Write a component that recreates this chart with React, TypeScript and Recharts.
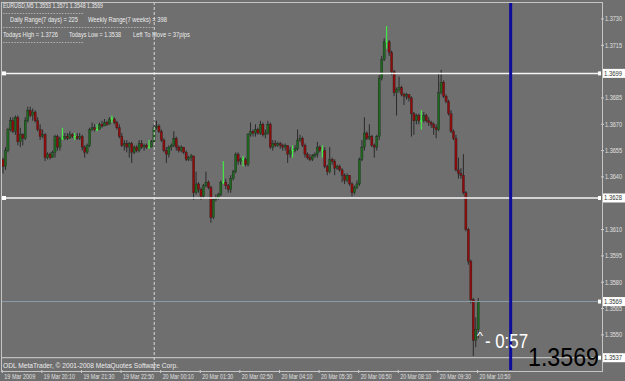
import React from "react";
import { Bar, ComposedChart, ReferenceLine, XAxis, YAxis } from "recharts";

// EURUSD M5, 19 Mar 2009 18:50 -> 20 Mar 2009 10:50 (193 bars)
const firstOpen = 1.365;

const closes = [
  1.3646, 1.3655, 1.3667, 1.3672, 1.3666, 1.3674, 1.366, 1.3664, 1.3662, 1.3672,
  1.3678, 1.3675, 1.3677, 1.3672, 1.3667, 1.3663, 1.3664, 1.3651, 1.3653, 1.3651,
  1.3654, 1.3663, 1.3657, 1.3662, 1.3662, 1.3663, 1.3662, 1.3664, 1.3663, 1.3663,
  1.3662, 1.3663, 1.3657, 1.3654, 1.3658, 1.3667, 1.3668, 1.3667, 1.3667, 1.367,
  1.3669, 1.3671, 1.367, 1.3673, 1.3673, 1.3671, 1.3668, 1.3663, 1.3658, 1.3659,
  1.3657, 1.3659, 1.3654, 1.3657, 1.3655, 1.3659, 1.3657, 1.3658, 1.3657, 1.3657,
  1.366, 1.3668, 1.3669, 1.3666, 1.3661, 1.3655, 1.3653, 1.3657, 1.3658, 1.3662,
  1.3657, 1.3655, 1.3657, 1.3654, 1.365, 1.3651, 1.3652, 1.3631, 1.3636, 1.3633,
  1.3629, 1.3635, 1.3637, 1.3634, 1.3617, 1.3627, 1.3628, 1.363, 1.3637, 1.3637,
  1.3635, 1.3633, 1.3639, 1.3643, 1.3653, 1.3649, 1.365, 1.365, 1.3647, 1.3664,
  1.3666, 1.3665, 1.3667, 1.3665, 1.367, 1.3664, 1.3665, 1.367, 1.3657, 1.3659,
  1.3658, 1.3659, 1.3658, 1.3657, 1.3658, 1.3653, 1.3655, 1.3655, 1.3656, 1.3661,
  1.3662, 1.3658, 1.3653, 1.3651, 1.365, 1.3652, 1.3653, 1.3657, 1.3655, 1.3655,
  1.3646, 1.3643, 1.365, 1.3649, 1.3645, 1.3646, 1.3644, 1.3641, 1.3638, 1.3641,
  1.3636, 1.3631, 1.3634, 1.3636, 1.365, 1.3657, 1.3665, 1.3662, 1.3663, 1.3658,
  1.3657, 1.3663, 1.3696, 1.3707, 1.3717, 1.3717, 1.3711, 1.37, 1.3688, 1.369,
  1.3691, 1.3687, 1.3686, 1.3687, 1.3685, 1.3676, 1.3672, 1.3675, 1.3672, 1.3672,
  1.3675, 1.3672, 1.3671, 1.367, 1.3668, 1.3667, 1.3688, 1.3694, 1.3686, 1.3683,
  1.3676, 1.3666, 1.3662, 1.3644, 1.3642, 1.3641, 1.3631, 1.361, 1.3592, 1.357,
  1.3547, 1.3553, 1.3569,
];

const highs = [
  1.3651, 1.3657, 1.3668, 1.3674, 1.3674, 1.3675, 1.3675, 1.3668, 1.3665, 1.3674,
  1.368, 1.368, 1.3679, 1.3678, 1.3674, 1.367, 1.3667, 1.3665, 1.3654, 1.3654,
  1.3655, 1.3664, 1.3664, 1.3663, 1.3668, 1.3665, 1.3665, 1.3666, 1.3665, 1.3665,
  1.3665, 1.3665, 1.3664, 1.3658, 1.3659, 1.3668, 1.3671, 1.367, 1.367, 1.3671,
  1.3672, 1.3673, 1.3672, 1.3674, 1.3675, 1.3674, 1.3672, 1.367, 1.3665, 1.3661,
  1.3661, 1.366, 1.366, 1.3658, 1.3658, 1.3661, 1.3661, 1.3659, 1.3659, 1.3661,
  1.3661, 1.3671, 1.3672, 1.367, 1.3667, 1.3662, 1.3657, 1.3658, 1.3659, 1.3666,
  1.3663, 1.3658, 1.3658, 1.3657, 1.3655, 1.3652, 1.3653, 1.3652, 1.3643, 1.3637,
  1.3634, 1.3636, 1.3643, 1.3638, 1.3635, 1.3628, 1.363, 1.3631, 1.3638, 1.3649,
  1.3639, 1.3636, 1.3641, 1.3644, 1.3654, 1.3654, 1.3651, 1.3652, 1.3651, 1.3665,
  1.3671, 1.3667, 1.367, 1.3668, 1.3672, 1.3671, 1.3667, 1.3672, 1.3671, 1.3661,
  1.3661, 1.366, 1.366, 1.3659, 1.3659, 1.3658, 1.3657, 1.3658, 1.3658, 1.3667,
  1.3664, 1.3663, 1.3659, 1.3654, 1.3653, 1.3653, 1.3654, 1.366, 1.3658, 1.3658,
  1.3657, 1.3647, 1.3657, 1.3651, 1.365, 1.3647, 1.3647, 1.3645, 1.3642, 1.3642,
  1.3641, 1.3637, 1.3635, 1.3638, 1.3651, 1.3661, 1.3674, 1.3666, 1.367, 1.3664,
  1.3659, 1.3664, 1.3698, 1.3709, 1.3719, 1.3726, 1.3718, 1.3712, 1.3701, 1.3691,
  1.3697, 1.3692, 1.3688, 1.3688, 1.3687, 1.3686, 1.3677, 1.3676, 1.3676, 1.3678,
  1.3677, 1.3676, 1.3674, 1.3672, 1.3671, 1.367, 1.3699, 1.3701, 1.3695, 1.3687,
  1.3684, 1.3678, 1.3667, 1.3664, 1.3651, 1.3645, 1.3653, 1.3632, 1.3611, 1.3593,
  1.3571, 1.356, 1.3571,
];

const lows = [
  1.3642, 1.3644, 1.3654, 1.3666, 1.3665, 1.3664, 1.3658, 1.3657, 1.3658, 1.3661,
  1.3671, 1.3674, 1.3672, 1.3671, 1.3666, 1.3661, 1.3662, 1.3649, 1.365, 1.365,
  1.3651, 1.3651, 1.3655, 1.3655, 1.3661, 1.3661, 1.3661, 1.3662, 1.3662, 1.3661,
  1.3661, 1.3661, 1.3655, 1.3651, 1.3653, 1.3657, 1.3666, 1.3666, 1.3666, 1.3667,
  1.3668, 1.3669, 1.3669, 1.367, 1.3671, 1.367, 1.3667, 1.3662, 1.3657, 1.3655,
  1.3654, 1.3651, 1.3648, 1.3653, 1.3654, 1.3654, 1.3656, 1.3655, 1.3656, 1.3656,
  1.3657, 1.3659, 1.3667, 1.3665, 1.366, 1.3654, 1.3648, 1.3651, 1.3655, 1.3657,
  1.3655, 1.3654, 1.3654, 1.3653, 1.3649, 1.3649, 1.3649, 1.3627, 1.363, 1.3631,
  1.3627, 1.3628, 1.3634, 1.3633, 1.3614, 1.3616, 1.3626, 1.3627, 1.3629, 1.3636,
  1.3633, 1.3631, 1.3631, 1.3638, 1.3642, 1.3647, 1.3647, 1.3646, 1.3646, 1.3646,
  1.3663, 1.3663, 1.3663, 1.3664, 1.3664, 1.3663, 1.3662, 1.3664, 1.3656, 1.3655,
  1.3657, 1.3657, 1.3656, 1.3655, 1.3655, 1.3648, 1.3651, 1.3651, 1.3654, 1.3655,
  1.366, 1.3657, 1.3651, 1.365, 1.3649, 1.3649, 1.3651, 1.3651, 1.3654, 1.3651,
  1.3645, 1.3641, 1.3642, 1.3647, 1.3641, 1.3644, 1.3643, 1.3637, 1.3636, 1.3637,
  1.3635, 1.3629, 1.363, 1.3633, 1.3635, 1.3649, 1.3655, 1.3661, 1.3661, 1.3657,
  1.3651, 1.3655, 1.3661, 1.3695, 1.3706, 1.3713, 1.3709, 1.3698, 1.3686, 1.3675,
  1.3688, 1.3686, 1.3681, 1.3684, 1.3683, 1.3663, 1.3664, 1.367, 1.367, 1.3667,
  1.3671, 1.3671, 1.3669, 1.3668, 1.3664, 1.3662, 1.3666, 1.3687, 1.3685, 1.3682,
  1.3675, 1.3665, 1.3661, 1.3643, 1.3639, 1.3639, 1.363, 1.3609, 1.359, 1.3568,
  1.3538, 1.3543, 1.3548,
];

const tickBars = [0, 16, 32, 48, 64, 80, 96, 112, 128, 144, 160, 176, 192];
const tickLabels = [
  "19 Mar 2009", "19 Mar 20:10", "19 Mar 21:30", "19 Mar 22:50", "20 Mar 00:10",
  "20 Mar 01:30", "20 Mar 02:50", "20 Mar 04:10", "20 Mar 05:30", "20 Mar 06:50",
  "20 Mar 08:10", "20 Mar 09:30", "20 Mar 10:50",
];
const priceTicks = [
  1.373, 1.3715, 1.3685, 1.367, 1.3655, 1.364, 1.361, 1.3595, 1.358, 1.3565, 1.355,
];

const SLOTS = 242;
const BG = "#6f6f6f";
const BULL = "#1f661f";
const BEAR = "#8f0c0c";
const DOJI = "#3dff3d";
const WICK = "#2a2a2a";
const FONT = "'Liberation Sans', Arial, sans-serif";

const data = Array.from({ length: SLOTS }, (_, i) =>
  i < closes.length
    ? {
        i,
        open: i === 0 ? firstOpen : closes[i - 1],
        high: highs[i],
        low: lows[i],
        close: closes[i],
        range: [lows[i], highs[i]],
      }
    : { i }
);

function Candle(props: any) {
  const { x, y, width, height, payload } = props;
  if (!payload || payload.high == null) return null;
  const { open, close, high, low } = payload;
  const top = Math.min(y, y + height);
  const h = Math.abs(height);
  const cx = x + width / 2;
  const toY = (p: number) => top + ((high - p) / (high - low)) * h;
  const yo = toY(open);
  const yc = toY(close);
  if (open === close) {
    return (
      <g>
        <line x1={cx} x2={cx} y1={top} y2={top + h} stroke={DOJI} strokeWidth={1} />
        <line x1={cx - 1.1} x2={cx + 1.1} y1={yo} y2={yo} stroke={DOJI} strokeWidth={1} />
      </g>
    );
  }
  return (
    <g>
      <line x1={cx} x2={cx} y1={top} y2={top + h} stroke={WICK} strokeWidth={1} />
      <rect
        x={cx - 1.1}
        y={Math.min(yo, yc)}
        width={2.2}
        height={Math.max(Math.abs(yc - yo), 1)}
        fill={close > open ? BULL : BEAR}
        stroke="#1c1c1c"
        strokeWidth={0.3}
      />
    </g>
  );
}

function TimeTick(props: any) {
  const { x, y, payload } = props;
  const k = tickBars.indexOf(payload.value);
  if (k < 0) return <g />;
  return (
    <g>
      <line x1={x - 1} x2={x - 1} y1={y} y2={y + 3} stroke="#d0d0d0" />
      <text
        x={x + 1}
        y={y + 8.5}
        fontSize={7}
        fontFamily={FONT}
        fill="#e0e0e0"
        textLength={31}
        lengthAdjust="spacingAndGlyphs"
      >
        {tickLabels[k]}
      </text>
    </g>
  );
}

function PriceTick(props: any) {
  const { x, y, payload } = props;
  return (
    <g>
      <line x1={x} x2={x + 3} y1={y} y2={y} stroke="#d0d0d0" />
      <text
        x={x + 4}
        y={y + 2.5}
        fontSize={7}
        fontFamily={FONT}
        fill="#e0e0e0"
        textLength={17}
        lengthAdjust="spacingAndGlyphs"
      >
        {payload.value.toFixed(4)}
      </text>
    </g>
  );
}

function PriceBox(props: any) {
  const { viewBox, value, square } = props;
  if (!viewBox) return null;
  const right = viewBox.x + viewBox.width;
  const yy = viewBox.y;
  return (
    <g>
      {square && <rect x={viewBox.x} y={yy - 2} width={4} height={4} fill="#ffffff" />}
      <rect x={right - 3} y={yy - 2} width={3} height={4} fill="#ffffff" />
      <rect x={right + 1} y={yy - 4.5} width={23} height={9} fill="#ffffff" />
      <text
        x={right + 3}
        y={yy + 2.5}
        fontSize={7}
        fontFamily={FONT}
        fill="#333333"
        textLength={18}
        lengthAdjust="spacingAndGlyphs"
      >
        {value}
      </text>
    </g>
  );
}

function Txt(props: { x: number; y: number; w: number; s?: number; c?: string; children: string }) {
  return (
    <text
      x={props.x}
      y={props.y}
      fontSize={props.s ?? 7}
      fontFamily={FONT}
      fill={props.c ?? "#ececec"}
      textLength={props.w}
      lengthAdjust="spacingAndGlyphs"
    >
      {props.children}
    </text>
  );
}

export default function App() {
  return (
    <div style={{ position: "relative", width: 625, height: 381, background: BG, overflow: "hidden" }}>
      <style>{`body{margin:0}`}</style>
      <ComposedChart
        width={625}
        height={381}
        data={data}
        margin={{ top: 3, right: 0, left: 2, bottom: 0 }}
        barCategoryGap={0}
        barGap={0}
      >
        <XAxis
          dataKey="i"
          height={11}
          interval={0}
          tickSize={0}
          tickMargin={0}
          axisLine={false}
          tick={<TimeTick />}
        />
        <YAxis
          orientation="right"
          width={24}
          type="number"
          domain={[1.353, 1.37391]}
          allowDataOverflow
          ticks={priceTicks}
          interval={0}
          tickSize={0}
          tickMargin={0}
          axisLine={false}
          tick={<PriceTick />}
        />
        <ReferenceLine x={61} stroke="#d8d8d8" strokeDasharray="3 2" strokeWidth={1} />
        <ReferenceLine y={1.3699} stroke="#f4f4f4" strokeWidth={1.5} label={<PriceBox value="1.3699" square />} />
        <ReferenceLine y={1.3628} stroke="#f4f4f4" strokeWidth={1.5} label={<PriceBox value="1.3628" square />} />
        <ReferenceLine y={1.3569} stroke="#8c9cac" strokeWidth={1} label={<PriceBox value="1.3569" />} />
        <ReferenceLine y={1.3537} stroke="#d4d4d4" strokeWidth={1} label={<PriceBox value="1.3537" />} />
        <Bar dataKey="range" shape={<Candle />} isAnimationActive={false} />
        <ReferenceLine x={205} stroke="#0c0c98" strokeWidth={3} />
      </ComposedChart>
      <div
        style={{
          position: "absolute",
          left: 1,
          top: 2,
          width: 600,
          height: 368,
          border: "1px solid #c4c4c4",
          pointerEvents: "none",
        }}
      />
      <svg width={625} height={381} style={{ position: "absolute", left: 0, top: 0, pointerEvents: "none" }}>
        <Txt x={3} y={8} w={100}>EURUSD,M5  1.3553 1.3571 1.3548 1.3569</Txt>
        <Txt x={3} y={15} w={80} s={6.5}>- - - - - - - - - - - - - - - - - - - - - - - - - - - - -</Txt>
        <Txt x={10} y={22} w={68}>Daily Range(7 days) = 225</Txt>
        <Txt x={88} y={22} w={79}>Weekly Range(7 weeks) = 398</Txt>
        <Txt x={3} y={29} w={150} s={6.5}>- - - - - - - - - - - - - - - - - - - - - - - - - - - - - - - - - - - - - - - - - - - - - - - - - - - -</Txt>
        <Txt x={3} y={37} w={55}>Todays High = 1.3726</Txt>
        <Txt x={69} y={37} w={52}>Todays Low = 1.3538</Txt>
        <Txt x={133} y={37} w={57}>Left To Move = 37pips</Txt>
        <Txt x={3} y={44} w={80} s={6.5}>- - - - - - - - - - - - - - - - - - - - - - - - - - - - -</Txt>
        <Txt x={3} y={367.5} w={175} s={8}>ODL MetaTrader, © 2001-2008 MetaQuotes Software Corp.</Txt>
        <Txt x={477} y={340} w={6} s={10} c="#ffffff">^</Txt>
        <Txt x={485} y={348} w={43} s={20} c="#ffffff">- 0:57</Txt>
        <Txt x={528} y={366} w={71} s={25} c="#000000">1.3569</Txt>
      </svg>
    </div>
  );
}
